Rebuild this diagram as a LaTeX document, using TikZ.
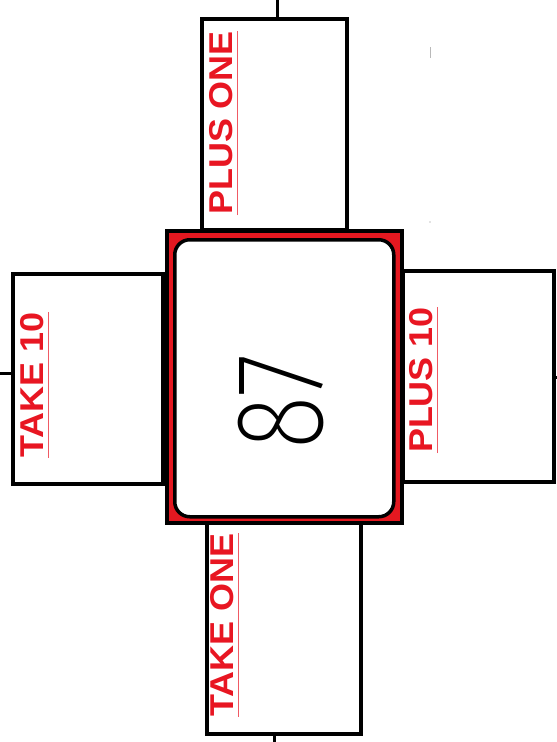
\documentclass[tikz,border=0pt]{standalone}
\usepackage{fontspec}
\setmainfont{Liberation Sans}
\newfontfamily\thinfont{Fira Sans ExtraLight}
\definecolor{lblred}{RGB}{232,22,34}
\definecolor{ulred}{RGB}{240,90,100}
\definecolor{framered}{RGB}{228,24,32}
\begin{document}
\begin{tikzpicture}[x=1pt,y=-1pt,
  card/.style={draw=black, line width=3.5pt, fill=white, inner sep=0pt, anchor=north west},
  lbl/.style={text=lblred, font=\bfseries\fontsize{33}{33}\selectfont, rotate=90, inner sep=0pt, anchor=base},
  ul/.style={draw=ulred, line width=1.5pt},
  stem/.style={draw=black, line width=3pt}]
\useasboundingbox (0,0) rectangle (557,742);
% side cards
\node[card, minimum width=145, minimum height=211] (pone) at (200,17) {};
\node[card, minimum width=150, minimum height=210] (tten) at (11,272) {};
\node[card, minimum width=151, minimum height=211] (pten) at (401,269) {};
\node[card, minimum width=154, minimum height=211] (tone) at (205,521) {};
% centre frame
\node[draw=black, line width=4pt, fill=framered, minimum width=235, minimum height=292, inner sep=0pt, anchor=north west] (frame) at (165,229) {};
\node[draw=black, line width=3.5pt, fill=white, rounded corners=15pt, minimum width=219, minimum height=277, inner sep=0pt, anchor=north west] (face) at (173,238) {};
\node[rotate=90, inner sep=0pt] (num) at (281,402) {\scalebox{0.8}[1]{\thinfont\fontsize{125}{125}\selectfont 87}};
% labels
\node[lbl] (lpone) at (232,123) {\scalebox{1.09}[1]{PLUS ONE}};
\node[lbl] (ltten) at (43,385) {\scalebox{1.09}[1]{TAKE 10}};
\node[lbl] (lpten) at (432,380) {\scalebox{1.09}[1]{PLUS 10}};
\node[lbl] (ltone) at (233,625) {\scalebox{1.09}[1]{TAKE ONE}};
\foreach \n in {lpone,ltten,lpten,ltone}{
  \draw[ul] ([xshift=5.5pt]\n.base west) -- ([xshift=5.5pt]\n.base east);
}
% stems
\coordinate (sn) at (277,0);
\coordinate (sw) at (0,373);
\coordinate (se) at (557,377);
\coordinate (ss) at (274,742);
\draw[stem] (sn) -- (sn |- pone.north);
\draw[stem] (sw) -- (sw -| tten.west);
\draw[stem] (se) -- (se -| pten.east);
\draw[stem] (ss) -- (ss |- tone.south);
% faint marks
\coordinate (m1) at (430,47);
\coordinate (m2) at (430,58);
\draw[gray!55, line width=1pt] (m1) -- (m2);
\fill[gray!45] (430,222) circle (0.8);
\end{tikzpicture}
\end{document}
